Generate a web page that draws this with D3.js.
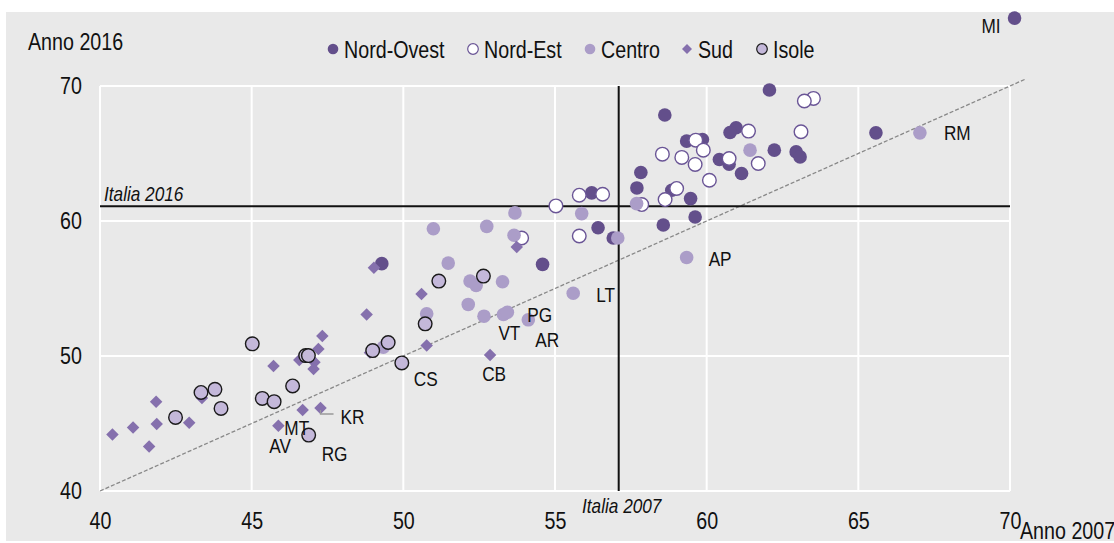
<!DOCTYPE html>
<html>
<head>
<meta charset="utf-8">
<script src="https://cdn.jsdelivr.net/npm/d3@7"></script>
<style>
  body { margin: 0; background: #fff; }
  svg text { font-family: "Liberation Sans", Arial, sans-serif; fill: #111; }
</style>
</head>
<body>
<div id="app"></div>
<script>
// tassi di occupazione per provincia: [anno 2007, anno 2016]
const nordOvest = [[70.15,75.03],[62.07,69.7],[58.62,67.85],[60.97,66.91],[60.77,66.56],[59.34,65.92],[59.86,66.04],
  [62.23,65.25],[62.95,65.12],[63.08,64.75],[60.42,64.56],[60.74,64.21],[61.15,63.52],[57.83,63.59],[57.7,62.45],
  [58.85,62.28],[59.47,61.66],[56.21,62.08],[56.42,59.5],[56.92,58.74],[58.57,59.7],[59.62,60.3],[65.58,66.53],
  [49.29,56.84],[54.59,56.79]]
const nordEst = [[63.52,69.08],[63.22,68.89],[61.38,66.66],[63.11,66.61],[59.64,65.99],[59.89,65.25],[58.54,64.95],
  [59.18,64.71],[59.62,64.19],[60.74,64.63],[61.7,64.26],[60.09,63.02],[59.01,62.41],[58.63,61.59],[57.86,61.22],
  [55.8,61.91],[56.57,61.98],[55.03,61.12],[55.8,58.89],[53.9,58.74]]
const centro = [[67.03,66.53],[61.43,65.25],[57.69,61.29],[55.88,60.55],[57.07,58.74],[59.34,57.3],[53.68,60.6],
  [50.99,59.43],[52.75,59.6],[53.65,58.94],[51.48,56.88],[52.2,55.55],[52.4,55.23],[53.27,55.5],[55.6,54.65],
  [52.14,53.82],[50.77,53.13],[52.66,52.95],[53.3,53.07],[53.43,53.24],[54.12,52.68],[49.34,50.65]]
const sud = [[53.74,58.07],[49.03,56.54],[50.6,54.6],[48.79,53.07],[50.77,50.77],[52.86,50.08],[47.33,51.49],
  [47.2,50.52],[45.72,49.26],[46.57,49.71],[47.07,49.53],[47.04,49.04],[41.85,46.62],[43.36,46.89],[41.09,44.71],
  [40.41,44.19],[41.87,44.96],[41.62,43.3],[42.94,45.06],[46.68,46.0],[47.27,46.15],[45.88,44.83],[48.9,50.25]]
const isole = [[45.02,50.9],[46.78,50.03],[46.87,50.03],[48.99,50.4],[49.5,51.0],[43.33,47.3],[43.79,47.53],
  [43.99,46.12],[42.49,45.45],[45.35,46.86],[45.74,46.62],[46.35,47.78],[46.88,44.14],[51.17,55.55],[52.64,55.92],
  [50.72,52.38],[49.95,49.49]]

const groupNames = ['Nord-Ovest','Nord-Est','Centro','Sud','Isole']
const xTicks = [40,45,50,55,60,65,70]
const yTicks = [40,50,60,70]
const italia2007 = 57.1
const italia2016 = 61.1

// etichette: sigla, gruppo, indice del punto
const labels = [['MI','Nord-Ovest',0],['RM','Centro',0],['AP','Centro',5],['LT','Centro',14],['PG','Centro',20],
  ['AR','Centro',20],['VT','Centro',19],['CS','Isole',16],['CB','Sud',5],['KR','Sud',20],['MT','Sud',21],
  ['AV','Sud',21],['RG','Isole',12]]
// spostamento del testo rispetto al punto (px)
const labelOffset = {MI:[-14,7,'end'],RM:[24,0],AP:[22,1],LT:[23,1],PG:[-1,-5],AR:[7,20],VT:[-9,20],
  CS:[12,16],CB:[4,19,'middle'],KR:[20,9],MT:[6,2],AV:[-9,20],RG:[13,18]}

const data = {'Nord-Ovest':nordOvest,'Nord-Est':nordEst,'Centro':centro,'Sud':sud,'Isole':isole}
const style = {
  'Nord-Ovest': {fill:'#634f8b', stroke:'none'},
  'Nord-Est': {fill:'#ffffff', stroke:'#6a5596'},
  'Centro': {fill:'#ab9dc8', stroke:'none'},
  'Sud': {fill:'#8570ad', stroke:'none'},
  'Isole': {fill:'#c4b8da', stroke:'#1a1a1a'}
}

const NARROW = 0.82   // il font originale e' un "narrow"

function txt(parent, px, py, str, size, anchor) {
  return parent.append('text')
    .attr('transform',`translate(${px},${py}) scale(${NARROW},1)`)
    .attr('text-anchor',anchor || 'start')
    .attr('font-size',size).text(str)
}

const W = 1114, H = 543
const svg = d3.select('#app').append('svg').attr('width',W).attr('height',H)
svg.append('rect').attr('x',6).attr('y',12).attr('width',W-6).attr('height',529).attr('fill','#e9e9e9')

const x = d3.scaleLinear().domain([40,70]).range([100,1010])
const y = d3.scaleLinear().domain([40,70]).range([491,86])

// griglia
const grid = svg.append('g')
grid.selectAll('line.v').data(xTicks).enter().append('line')
  .attr('x1',d => x(d)).attr('x2',d => x(d)).attr('y1',y(40)).attr('y2',y(70))
  .attr('stroke','#fff').attr('stroke-width',2)
grid.selectAll('line.h').data(yTicks).enter().append('line')
  .attr('y1',d => y(d)).attr('y2',d => y(d)).attr('x1',x(40)).attr('x2',x(70))
  .attr('stroke','#fff').attr('stroke-width',2)

// assi (solo etichette)
const xAxis = svg.append('g').attr('transform','translate(0,510)')
  .call(d3.axisBottom(x).tickValues(xTicks).tickSize(0).tickFormat(d3.format('d')))
const yAxis = svg.append('g').attr('transform','translate(82,0)')
  .call(d3.axisLeft(y).tickValues(yTicks).tickSize(0).tickFormat(d3.format('d')))
;[xAxis,yAxis].forEach(a => {
  a.select('.domain').remove()
  a.selectAll('text').attr('font-size',24).style('font-family',null).attr('fill','#111')
    .attr('transform',`scale(${NARROW},1)`)
})
xAxis.selectAll('text').attr('dy','0.35em').attr('y',11)
yAxis.selectAll('text').attr('x',0)

txt(svg, 28, 50, 'Anno 2016', 24)
txt(svg, 1020, 539, 'Anno 2007', 24)

// bisettrice
svg.append('line').attr('x1',x(40)).attr('y1',y(40)).attr('x2',x(70.5)).attr('y2',y(70.5))
  .attr('stroke','#888').attr('stroke-width',1.3).attr('stroke-dasharray','4,2')

// linee Italia
svg.append('line').attr('x1',x(40)).attr('x2',x(70)).attr('y1',y(italia2016)).attr('y2',y(italia2016))
  .attr('stroke','#111').attr('stroke-width',2)
svg.append('line').attr('x1',x(italia2007)).attr('x2',x(italia2007)).attr('y1',y(70)).attr('y2',y(40))
  .attr('stroke','#111').attr('stroke-width',2)
txt(svg, x(40)+4, y(italia2016)-5, 'Italia 2016', 21).attr('font-style','italic')
txt(svg, x(italia2007)+3, 513, 'Italia 2007', 21, 'middle').attr('font-style','italic')

// punti
const diamond = d3.symbol().type(d3.symbolSquare).size(78)
const pts = svg.append('g')
groupNames.forEach(name => {
  const s = style[name]
  const sel = pts.selectAll('.p-' + name).data(data[name]).enter()
  if (name === 'Sud') {
    sel.append('path').attr('d',diamond)
      .attr('transform',d => `translate(${x(d[0])},${y(d[1])}) rotate(45)`)
      .attr('fill',s.fill)
  } else {
    sel.append('circle').attr('cx',d => x(d[0])).attr('cy',d => y(d[1])).attr('r',6.8)
      .attr('fill',s.fill).attr('stroke',s.stroke).attr('stroke-width',1.4)
  }
})

// etichette province
labels.forEach(([sig,grp,i]) => {
  const p = data[grp][i]
  const o = labelOffset[sig]
  const px = x(p[0]), py = y(p[1])
  txt(svg, px + o[0], py + o[1] + 7.5, sig, 21, o[2])
  if (sig === 'KR') {
    svg.append('polyline').attr('points',`${px},${py+2} ${px},${py+6} ${px+13},${py+6}`)
      .attr('fill','none').attr('stroke','#999').attr('stroke-width',1.3)
  }
})

// legenda
const legendX = [333,473,590,687,762]
const legend = svg.append('g')
groupNames.forEach((name,i) => {
  const s = style[name]
  const g = legend.append('g').attr('transform',`translate(${legendX[i]},49)`)
  if (name === 'Sud') {
    g.append('path').attr('d',d3.symbol().type(d3.symbolSquare).size(50)).attr('transform','rotate(45)').attr('fill',s.fill)
  } else {
    g.append('circle').attr('r',5.3).attr('fill',s.fill).attr('stroke',s.stroke).attr('stroke-width',1.2)
  }
  txt(g, 11, 8.5, name, 24)
})
</script>
</body>
</html>
